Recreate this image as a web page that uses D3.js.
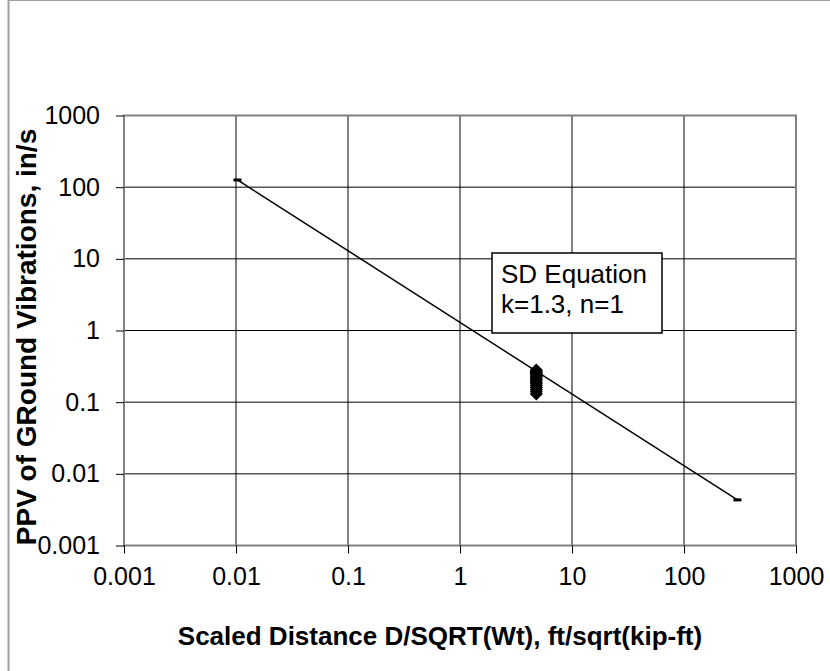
<!DOCTYPE html>
<html>
<head>
<meta charset="utf-8">
<script src="https://cdn.jsdelivr.net/npm/d3@7"></script>
<style>
  body { margin: 0; background: #fff; }
  text { font-family: "Liberation Sans", Arial, sans-serif; }
  .tick_text { font-size: 25px; fill: #000; }
  .axis_title { font-weight: bold; fill: #000; }
</style>
</head>
<body>
<div id="chart"></div>
<script>
// tick labels
let xTicks = [0.001, 0.01, 0.1, 1, 10, 100, 1000]
let yTicks = [0.001, 0.01, 0.1, 1, 10, 100, 1000]

// SD equation line, k=1.3, n=1 (end points)
let lineX = [0.0103, 300]
let lineY = [126, 0.00433]

// measured points, scaled distance and PPV
let pointX = [4.8, 4.8, 4.8, 4.8, 4.8, 4.8, 4.8, 4.8, 4.8, 4.8, 4.8, 4.8, 4.8, 4.8, 4.8, 4.8]
let pointY = [0.13, 0.14, 0.15, 0.16, 0.17, 0.18, 0.19, 0.2, 0.21, 0.22, 0.23, 0.24, 0.25, 0.26, 0.27, 0.28]

let svg = d3.select("#chart")
  .append("svg")
  .attr("width", 830)
  .attr("height", 671)

// outer frame
svg.append("line").attr("x1", 8.5).attr("y1", 0).attr("x2", 8.5).attr("y2", 671).style("stroke", "#a0a0a0").style("stroke-width", 2)
svg.append("line").attr("x1", 8).attr("y1", 0.5).attr("x2", 830).attr("y2", 0.5).style("stroke", "#a0a0a0").style("stroke-width", 1)

let plotLeft = 124, plotRight = 796, plotTop = 115.5, plotBottom = 545.5

let x = d3.scaleLog().domain([0.001, 1000]).range([plotLeft, plotRight])
let y = d3.scaleLog().domain([0.001, 1000]).range([plotBottom, plotTop])

// grid lines
svg.append("g").selectAll("line").data(yTicks).enter().append("line")
  .attr("x1", plotLeft).attr("x2", plotRight)
  .attr("y1", d => y(d)).attr("y2", d => y(d))
  .style("stroke", "#000").style("stroke-width", 1)
svg.append("g").selectAll("line").data(xTicks).enter().append("line")
  .attr("y1", plotTop).attr("y2", plotBottom)
  .attr("x1", d => x(d)).attr("x2", d => x(d))
  .style("stroke", "#000").style("stroke-width", 1)

// plot area border
svg.append("rect").attr("x", plotLeft).attr("y", plotTop).attr("width", plotRight - plotLeft).attr("height", plotBottom - plotTop)
  .style("fill", "none").style("stroke", "#808080").style("stroke-width", 2)

// axes
let xAxis = svg.append("g").attr("transform", "translate(0," + plotBottom + ")")
  .call(d3.axisBottom(x).tickValues(xTicks).tickFormat(d => String(d)).tickSize(8).tickPadding(14))
let yAxis = svg.append("g").attr("transform", "translate(" + plotLeft + ",0)")
  .call(d3.axisLeft(y).tickValues(yTicks).tickFormat(d => String(d)).tickSize(8).tickPadding(16))
xAxis.select(".domain").remove()
yAxis.select(".domain").remove()
svg.selectAll(".tick line").style("stroke", "#000")
svg.selectAll(".tick text").attr("class", "tick_text")
xAxis.attr("font-family", null).attr("font-size", null)
yAxis.attr("font-family", null).attr("font-size", null)

// axis titles
svg.append("text").attr("x", 440).attr("y", 645).attr("text-anchor", "middle")
  .text("Scaled Distance D/SQRT(Wt), ft/sqrt(kip-ft)").attr("class", "axis_title").style("font-size", "26px")
svg.append("text").attr("transform", "translate(36,337) rotate(-90)").attr("text-anchor", "middle")
  .text("PPV of GRound Vibrations, in/s").attr("class", "axis_title").style("font-size", "28px")

// equation line
let linePts = lineX.map((d, i) => [d, lineY[i]])
svg.append("path").datum(linePts)
  .attr("d", d3.line().x(d => x(d[0])).y(d => y(d[1])))
  .style("fill", "none").style("stroke", "#000").style("stroke-width", 1.5)
svg.append("g").selectAll("rect").data(linePts).enter().append("rect")
  .attr("x", d => x(d[0]) - 4).attr("y", d => y(d[1]) - 1.5)
  .attr("width", 8).attr("height", 3).style("fill", "#000")

// measured points as diamonds
let diamond = d3.symbol().type(d3.symbolDiamond2).size(110)
svg.append("g").selectAll("path").data(pointX.map((d, i) => [d, pointY[i]])).enter().append("path")
  .attr("transform", d => "translate(" + x(d[0]) + "," + y(d[1]) + ")")
  .attr("d", diamond)
  .style("fill", "#000")

// equation label
svg.append("rect").attr("x", 492).attr("y", 253).attr("width", 170).attr("height", 80)
  .style("fill", "#fff").style("stroke", "#000").style("stroke-width", 1.5)
svg.append("text").attr("x", 501).attr("y", 283).text("SD Equation").style("font-size", "26px")
svg.append("text").attr("x", 501).attr("y", 313).text("k=1.3, n=1").style("font-size", "26px")
</script>
</body>
</html>
